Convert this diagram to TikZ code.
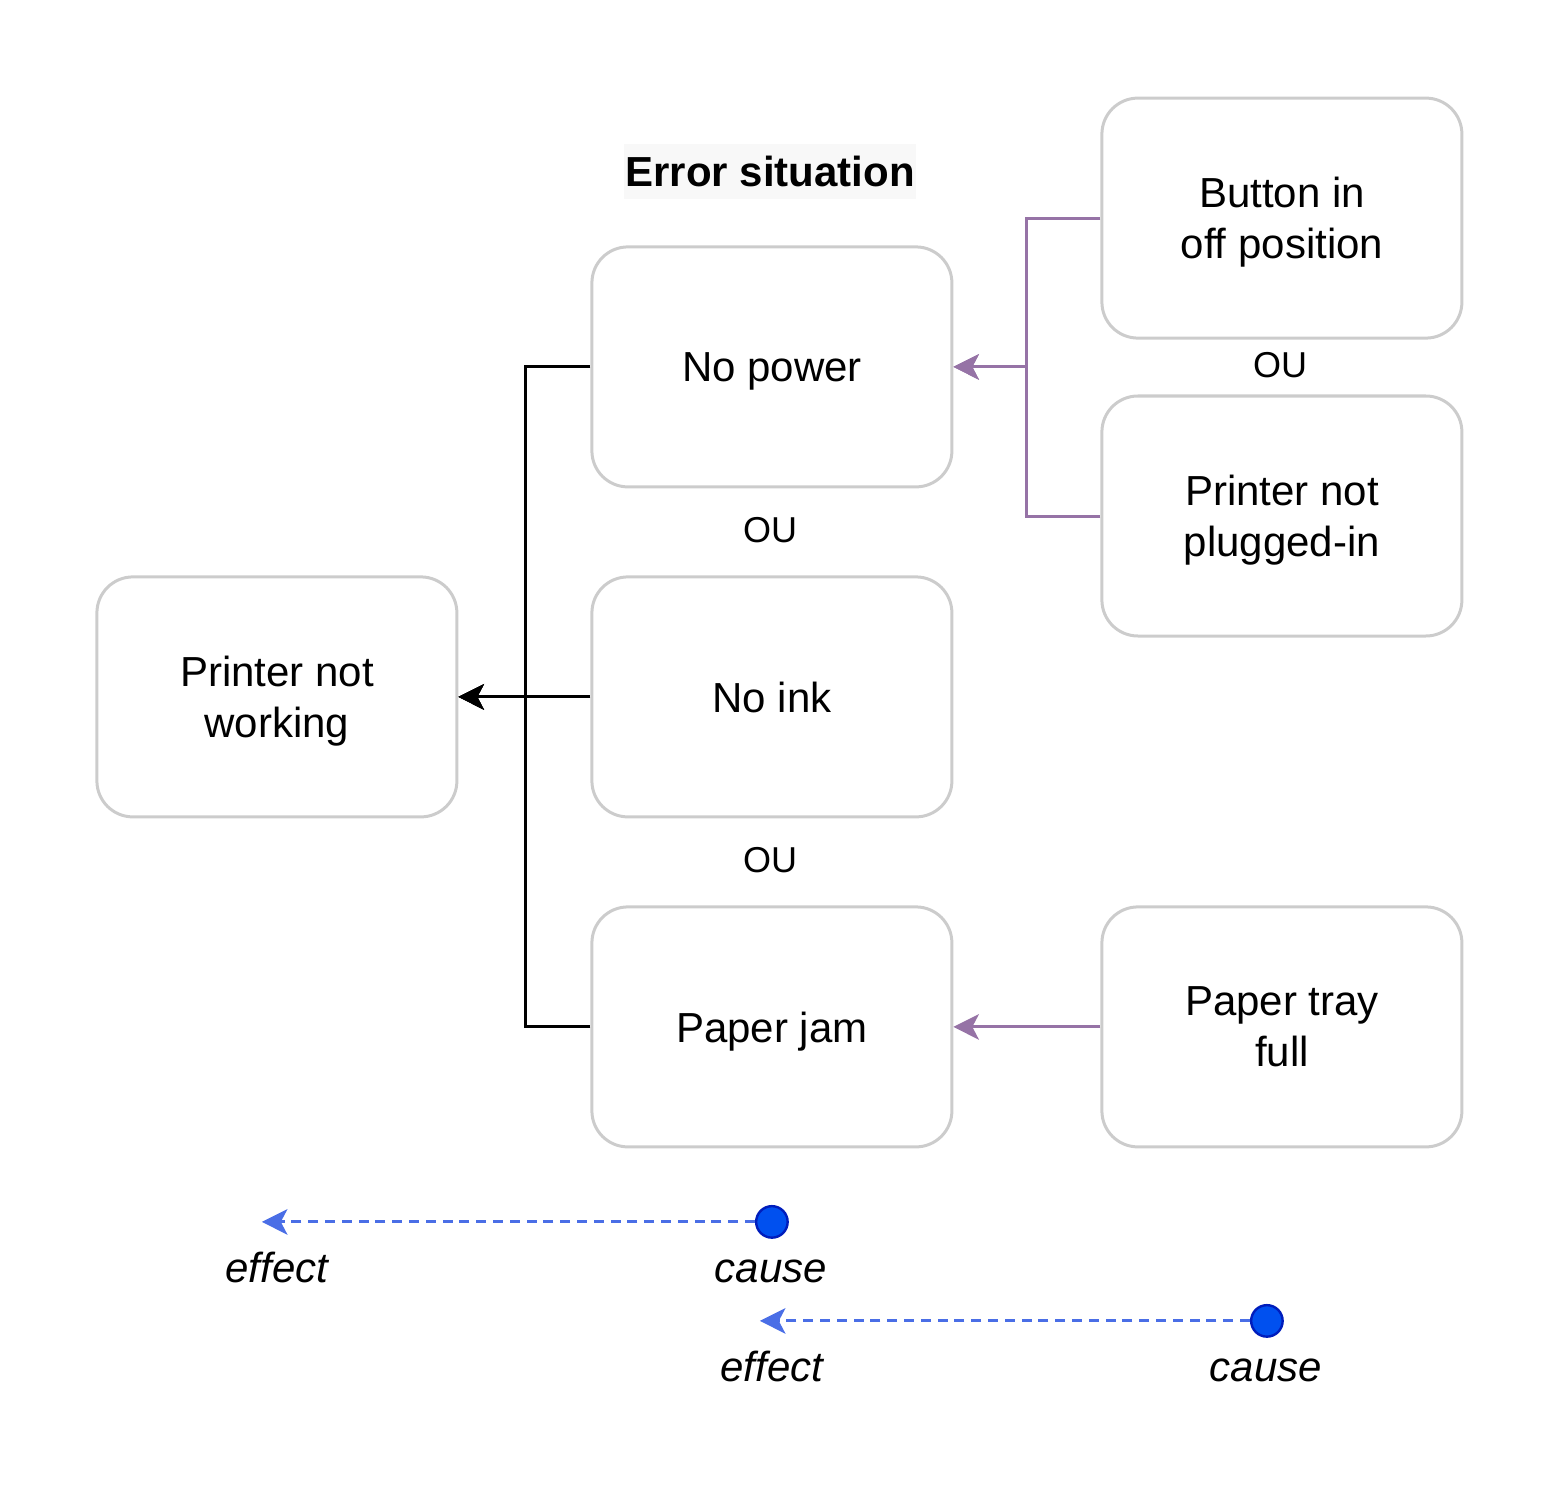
\documentclass[tikz,border=0pt]{standalone}
\usepackage{fontspec}
\setmainfont{Liberation Sans}
\usetikzlibrary{arrows.meta}
\definecolor{boxline}{HTML}{cccccc}
\definecolor{purple}{HTML}{9673a6}
\definecolor{dotblue}{HTML}{0050ef}
\definecolor{dotline}{HTML}{001dbc}
\definecolor{dashblue}{HTML}{4a6ee6}
\definecolor{titlebg}{HTML}{f8f8f8}

\begin{document}
\begin{tikzpicture}[scale=1.0, x=1pt, y=-1pt,
    box/.style={draw=boxline, line width=1pt, rounded corners=12pt,
      minimum width=120pt, minimum height=80pt, align=center, text depth=0pt,
      font=\fontsize{14}{17}\selectfont},
    ou/.style={font=\fontsize{12}{14}\selectfont},
    tip/.style={-{Stealth[length=8.5pt, width=8.5pt, inset=2.2pt]}, line width=1pt},
    dot/.style={circle, fill=dotblue, draw=dotline, line width=0.8pt,
      inner sep=0pt, minimum size=10.5pt},
    legend/.style={tip, dashblue, dash pattern=on 3.3pt off 2.3pt},
    legendtext/.style={text height=10.2pt, text depth=0pt,
      font=\fontsize{14}{17}\selectfont\itshape}]

  \useasboundingbox (0, 0) rectangle (520, 503);

  \node[fill=titlebg, inner xsep=0.5pt, minimum height=18.3pt,
    font=\fontsize{14}{17}\selectfont\bfseries] (title) at (256.7, 57.3) {Error situation};

  \node[box] (printer) at (92.3, 232.3) {Printer not\\working};
  \node[box] (nopower) at (257.3, 122.3) {No power};
  \node[box] (noink) at (257.3, 232.3) {No ink};
  \node[box] (paperjam) at (257.3, 342.3) {Paper jam};
  \node[box] (button) at (427.3, 72.7) {Button in\\off position};
  \node[box] (plug) at (427.3, 172) {Printer not\\plugged-in};
  \node[box] (tray) at (427.3, 342.3) {Paper tray\\full};

  \node[ou] (ou1) at (256.7, 176.7) {OU};
  \node[ou] (ou2) at (256.7, 286.7) {OU};
  \node[ou] (ou3) at (426.7, 121.7) {OU};

  \coordinate (join) at (175, 232.3);
  \coordinate (pjoin) at (342.3, 122.3);

  \draw[tip] (nopower.west) -| (join) -- (printer.east);
  \draw[tip] (noink.west) -- (printer.east);
  \draw[tip] (paperjam.west) -| (join) -- (printer.east);

  \draw[tip, purple] (button.west) -| (pjoin) -- (nopower.east);
  \draw[tip, purple] (plug.west) -| (pjoin) -- (nopower.east);
  \draw[tip, purple] (tray.west) -- (paperjam.east);

  % legend
  \node[dot] (cause1) at (257.3, 407.3) {};
  \coordinate (effect1) at (87.3, 407.3);
  \node[dot] (cause2) at (422.3, 440.3) {};
  \coordinate (effect2) at (253.3, 440.3);

  \draw[legend] (cause1) -- (effect1);
  \draw[legend] (cause2) -- (effect2);

  \node[legendtext] (efftext1) at (92.3, 422.3) {effect};
  \node[legendtext] (causetext1) at (257, 422.3) {cause};
  \node[legendtext] (efftext2) at (257.3, 455.3) {effect};
  \node[legendtext] (causetext2) at (422, 455.3) {cause};

\end{tikzpicture}
\end{document}
